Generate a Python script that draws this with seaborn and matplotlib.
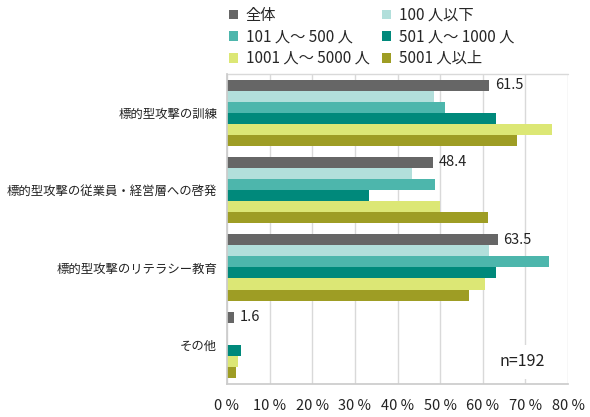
import numpy as np
import pandas as pd
import matplotlib
matplotlib.use("Agg")
import matplotlib.pyplot as plt
from matplotlib.patches import Patch
import seaborn as sns

categories = ["標的型攻撃の訓練", "標的型攻撃の従業員・経営層への啓発",
              "標的型攻撃のリテラシー教育", "その他"]
series = ["全体", "100 人以下", "101 人～ 500 人", "501 人～ 1000 人",
          "1001 人～ 5000 人", "5001 人以上"]
v_all = [61.5, 48.4, 63.5, 1.6]
v_100 = [48.6, 43.5, 61.4, 0.0]
v_500 = [51.1, 48.7, 75.5, 0.0]
v_1000 = [63.2, 33.3, 63.2, 3.3]
v_5000 = [76.2, 50.0, 60.5, 2.5]
v_5001 = [68.0, 61.3, 56.7, 2.1]
colors = ["#666666", "#b2dfdb", "#4db6ac", "#00897b", "#dce775", "#9e9d24"]
xticks = [0, 10, 20, 30, 40, 50, 60, 70, 80]

rows = []
for s, vals in zip(series, [v_all, v_100, v_500, v_1000, v_5000, v_5001]):
    for c, v in zip(categories, vals):
        rows.append({"cat": c, "series": s, "val": v})
df = pd.DataFrame(rows)

sns.set_theme(style="white")
plt.rcParams["font.family"] = ["Noto Sans CJK JP", "DejaVu Sans"]

fig = plt.figure(figsize=(5.9, 4.17), dpi=100)
ax = fig.add_axes([227/590, 1-383.5/417, (568-227)/590, (383.5-74)/417])

sns.barplot(data=df, y="cat", x="val", hue="series", order=categories,
            hue_order=series, palette=colors, orient="h", width=6/7,
            gap=0, ax=ax, legend=False, saturation=1, edgecolor="none")

ax.set_xlim(0, 80)
ax.set_ylim(len(categories)-0.5, -0.5)
ax.set_xticks(xticks)
ax.set_xticklabels([f"{t} %" for t in xticks], fontsize=10.5, color="#222222")
ax.set_yticks(range(len(categories)))
ax.set_yticklabels(categories, fontsize=8.9, color="#222222")
ax.set_yticks(np.arange(-0.5, len(categories), 1.0), minor=True)
ax.tick_params(axis="y", which="major", length=0, pad=7)
ax.tick_params(axis="y", which="minor", length=6, color="#cccccc", direction="out")
ax.tick_params(axis="x", which="major", length=5, color="#cccccc", direction="out", pad=6)
ax.set_xlabel("")
ax.set_ylabel("")
ax.grid(axis="x", color="#d9d9d9", linewidth=1)
ax.set_axisbelow(True)
for side in ["top", "right"]:
    ax.spines[side].set_visible(False)
ax.spines["left"].set_color("#cccccc")
ax.spines["bottom"].set_color("#cccccc")
ax.plot([0, 80], [-0.5, -0.5], color="#d9d9d9", linewidth=1, clip_on=False, zorder=0)

ax.bar_label(ax.containers[0], fmt="%.1f", padding=4, fontsize=10.5, color="#222222")

ax.text(69.2, 3.22, "n=192", fontsize=11.5, color="#222222",
        ha="center", va="center",
        bbox=dict(facecolor="white", edgecolor="none", pad=6))

handles = [Patch(facecolor=c, edgecolor="none") for c in colors]
order = [0, 2, 4, 1, 3, 5]
fig.legend([handles[i] for i in order], [series[i] for i in order],
           ncol=2, loc="upper left", bbox_to_anchor=(222/590, 1.0),
           frameon=False, fontsize=11, handlelength=0.6, handleheight=0.6,
           handletextpad=0.5, columnspacing=0.8, labelspacing=0.3,
           borderaxespad=0.05)

fig.savefig("out.png", dpi=100)
